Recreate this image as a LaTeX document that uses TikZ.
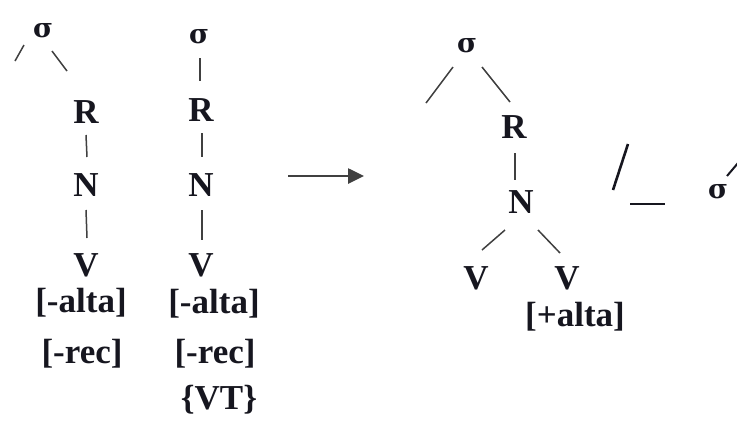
\documentclass[tikz,border=0pt]{standalone}
\usepackage{fontspec}
\setmainfont{Liberation Serif}
\newfontfamily\sigfont{DejaVu Serif}
\usetikzlibrary{arrows.meta}
\definecolor{ink}{HTML}{16161F}
\definecolor{linegray}{HTML}{404040}
\tikzset{
  lab/.style={inner sep=0pt, text=ink, font=\bfseries\fontsize{35}{40}\selectfont},
  sig/.style={inner sep=0pt, text=ink, font=\sigfont\bfseries\fontsize{27}{30}\selectfont},
  link/.style={draw=linegray, line width=1.5pt},
  frag/.style={draw=ink, line width=2.6pt},
  arr/.style={draw=linegray, line width=2.6pt, -{Triangle[length=16pt,width=15pt]}}
}
\begin{document}
\begin{tikzpicture}[x=1pt,y=-1pt]
\useasboundingbox[fill=white] (0,0) rectangle (737,421);
% tree 1
\node[sig] (s1) at (43,31) {σ};
\node[lab] (R1) at (86,112) {R};
\node[lab] (N1) at (86,185) {N};
\node[lab] (V1) at (86,265) {V};
\node[lab] (f1a) at (81,303) {[-alta]};
\node[lab] (f1b) at (82,354) {[-rec]};
\draw[link] (s1) ++(-28,30) -- ++(9,-16);
\draw[link] (s1) ++(9,20) -- ++(15,20);
\draw[link] (R1) ++(0,23) -- ++(1,22);
\draw[link] (N1) ++(0,25) -- ++(1,28);
% tree 2
\node[sig] (s2) at (199,37) {σ};
\node[lab] (R2) at (201,110) {R};
\node[lab] (N2) at (201,185) {N};
\node[lab] (V2) at (201,265) {V};
\node[lab] (f2a) at (214,304) {[-alta]};
\node[lab] (f2b) at (215,354) {[-rec]};
\node[lab] (f2c) at (219,400) {\{VT\}};
\draw[link] (s2) ++(1,21) -- ++(0,23);
\draw[link] (R2) ++(1,23) -- ++(0,24);
\draw[link] (N2) ++(1,25) -- ++(0,30);
% arrow
\coordinate (a0) at (288,176);
\coordinate (a1) at (364,176);
\draw[arr] (a0) -- (a1);
% tree 3
\node[sig] (s3) at (467,46) {σ};
\node[lab] (R3) at (514,127) {R};
\node[lab] (N3) at (521,202) {N};
\node[lab] (V3a) at (476,278) {V};
\node[lab] (V3b) at (567,278) {V};
\node[lab] (f3) at (575,317) {[+alta]};
\draw[link] (s3) ++(-14,21) -- ++(-27,36);
\draw[link] (s3) ++(15,21) -- ++(28,35);
\draw[link] (R3) ++(1,26) -- ++(0,27);
\draw[link] (N3) ++(-16,28) -- ++(-23,20);
\draw[link] (N3) ++(17,28) -- ++(22,23);
% fragments on the right
\coordinate (g1) at (628,144);
\coordinate (g2) at (613,190);
\coordinate (h1) at (630,204);
\coordinate (h2) at (665,204);
\draw[frag] (g1) -- (g2);
\draw[frag] (h1) -- (h2);
\node[sig] (s4) at (718,192) {σ};
\coordinate (k2) at (738,163);
\draw[frag, line width=2pt] (s4) ++(9,-16) -- (k2);
\end{tikzpicture}
\end{document}
